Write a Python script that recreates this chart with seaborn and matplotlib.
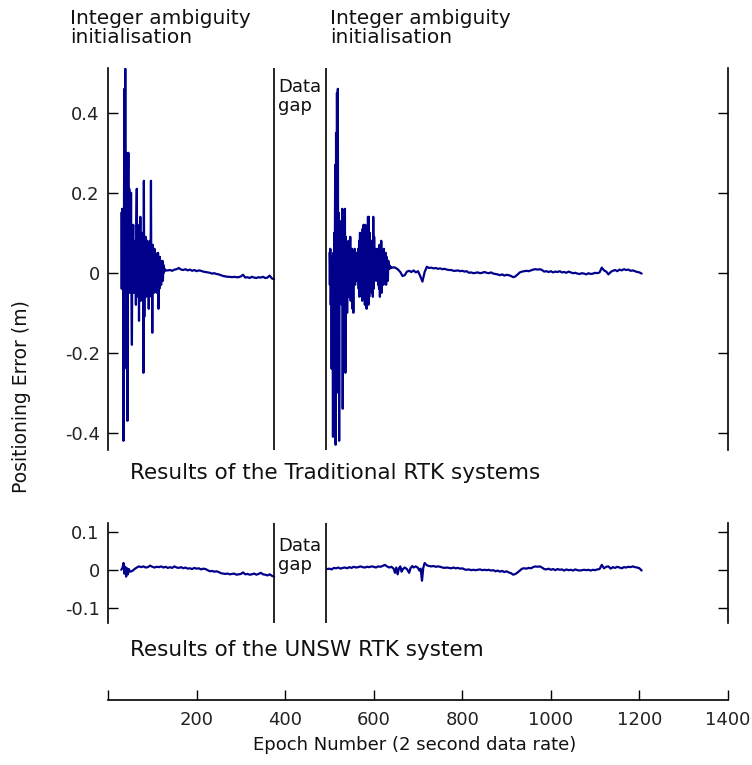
import numpy as np
import pandas as pd
import matplotlib
matplotlib.use("Agg")
import matplotlib.pyplot as plt
import seaborn as sns

# ---------------- data ----------------
gap_bounds = [375, 493]
x_ticks = [0, 200, 400, 600, 800, 1000, 1200, 1400]
x_tick_labels = ["", "200", "400", "600", "800", "1000", "1200", "1400"]
top_yticks = [-0.4, -0.2, 0, 0.2, 0.4]
top_ytick_labels = ["-0.4", "-0.2", "0", "0.2", "0.4"]
bot_yticks = [-0.1, 0, 0.1]
bot_ytick_labels = ["-0.1", "0", "0.1"]

# Traditional RTK: first initialisation (epochs 30..130, 1 epoch spacing)
trad_init1_start = 30
trad_init1_err = [
    0.15, -0.04, 0.16, -0.03, 0.14, -0.42, 0.12, 0.46, -0.04, 0.51,
    -0.05, 0.30, -0.24, 0.12, -0.37, 0.15, 0.30, -0.03, 0.21, -0.05,
    0.14, -0.04, 0.20, -0.06, -0.18, 0.10, 0.05, 0.12, -0.05, 0.08,
    0.02, -0.04, 0.06, -0.08, 0.13, 0.21, -0.03, 0.12, -0.06, 0.09,
    -0.12, 0.11, -0.02, 0.14, -0.07, 0.07, 0.02, 0.05, -0.05, 0.10,
    -0.25, 0.23, -0.11, 0.06, -0.03, 0.09, -0.06, 0.04, 0.00, 0.08,
    -0.05, 0.06, -0.09, 0.05, 0.01, 0.08, -0.03, 0.23, -0.06, 0.05,
    -0.15, 0.07, -0.02, 0.04, -0.05, 0.06, -0.02, 0.05, -0.03, 0.04,
    -0.05, 0.03, -0.02, 0.05, -0.09, 0.03, -0.04, 0.04, -0.01, 0.03,
    -0.03, 0.02, 0.00, 0.03, -0.02, 0.02, 0.00, 0.01, 0.01, 0.005,
    0.006,
]
# Traditional RTK: drift after first fix (epochs 135..375, 5 epoch spacing)
trad_drift1_start = 135
trad_drift1_err = [
    0.006, 0.007, 0.005, 0.008, 0.009, 0.012, 0.008, 0.007, 0.009, 0.006,
    0.008, 0.005, 0.007, 0.004, 0.006, 0.005, 0.003, 0.002, 0.001, 0.000,
    -0.002, -0.001, -0.003, -0.004, -0.006, -0.008, -0.009, -0.010, -0.010, -0.011,
    -0.010, -0.011, -0.011, -0.009, -0.005, -0.012, -0.011, -0.013, -0.010, -0.012,
    -0.013, -0.011, -0.012, -0.010, -0.013, -0.012, -0.007, -0.014, -0.016,
]
# Traditional RTK: second initialisation (epochs 500..640, 1 epoch spacing)
trad_init2_start = 500
trad_init2_err = [
    0.05, -0.03, 0.06, -0.08, 0.03, -0.24, 0.04, -0.02, -0.41, 0.05,
    -0.12, 0.10, 0.00, 0.27, -0.43, 0.35, -0.20, 0.45, -0.05, 0.46,
    -0.30, 0.15, -0.42, 0.12, 0.02, 0.07, -0.05, 0.13, -0.08, 0.16,
    -0.34, 0.10, -0.03, 0.12, -0.06, 0.16, -0.25, 0.09, -0.04, 0.06,
    -0.10, 0.05, 0.01, 0.08, -0.06, 0.05, -0.02, 0.09, -0.07, 0.04,
    -0.01, 0.06, -0.09, 0.03, -0.10, 0.05, 0.00, 0.06, -0.03, 0.04,
    -0.02, 0.05, -0.01, 0.03, 0.00, 0.06, -0.04, 0.08, -0.06, 0.10,
    -0.05, 0.07, -0.03, 0.09, -0.07, 0.11, -0.04, 0.12, -0.05, 0.08,
    -0.08, 0.12, -0.02, 0.07, -0.09, 0.05, -0.07, 0.14, -0.08, 0.14,
    -0.06, 0.10, -0.03, 0.06, 0.02, 0.08, -0.05, 0.07, -0.06, 0.14,
    -0.04, 0.09, -0.02, 0.05, 0.01, 0.06, -0.02, 0.04, 0.00, 0.06,
    -0.03, 0.05, -0.04, 0.07, -0.06, 0.06, -0.02, 0.08, -0.05, 0.04,
    0.00, 0.05, -0.03, 0.06, -0.02, 0.04, -0.01, 0.05, -0.03, 0.04,
    -0.01, 0.03, -0.02, 0.03, 0.01, 0.02, 0.01, 0.016, 0.015, 0.014,
    0.012,
]
# Traditional RTK: drift after second fix (epochs 645..1205, 5 epoch spacing)
trad_drift2_start = 645
trad_drift2_err = [
    0.014, 0.012, 0.008, 0.002, -0.008, -0.006, 0.003, 0.005, 0.002, 0.006,
    0.001, 0.004, -0.008, -0.022, 0.002, 0.015, 0.012, 0.013, 0.011, 0.012,
    0.010, 0.011, 0.009, 0.010, 0.008, 0.007, 0.007, 0.005, 0.005, 0.006,
    0.004, 0.005, 0.003, 0.004, 0.000, 0.001, -0.001, 0.000, 0.001, -0.001,
    0.000, 0.002, 0.000, -0.001, 0.001, -0.002, -0.003, -0.004, -0.006, -0.004,
    -0.007, -0.005, -0.006, -0.008, -0.011, -0.009, -0.004, 0.001, 0.003, 0.004,
    0.005, 0.004, 0.006, 0.008, 0.009, 0.008, 0.009, 0.007, 0.003, 0.004,
    0.002, 0.004, 0.001, 0.003, 0.002, 0.004, 0.001, 0.002, 0.000, 0.003,
    0.001, -0.001, 0.000, -0.002, -0.003, -0.001, -0.002, -0.004, -0.001, -0.003,
    -0.002, 0.000, -0.001, 0.001, 0.013, 0.006, 0.003, -0.004, 0.002, 0.005,
    0.007, 0.004, 0.008, 0.006, 0.009, 0.007, 0.008, 0.005, 0.006, 0.004,
    0.002, 0.001, -0.002,
]

# UNSW RTK
unsw_start_epochs = [30, 33, 35, 37, 39, 41, 43, 45, 47, 50]
unsw_start_err = [0.0, 0.006, 0.018, -0.010, 0.008, -0.018, 0.004, -0.012, 0.002, -0.005]
unsw_drift1_start = 55  # 5 epoch spacing up to 375
unsw_drift1_err = [
    -0.003, 0.002, 0.006, 0.009, 0.007, 0.009, 0.006, 0.007, 0.011, 0.008,
    0.006, 0.008, 0.007, 0.009, 0.006, 0.008, 0.005, 0.007, 0.005, 0.009,
    0.006, 0.005, 0.007, 0.004, 0.006, 0.003, 0.004, 0.002, 0.005, 0.003,
    0.004, 0.001, 0.003, 0.002, -0.001, -0.004, -0.003, -0.005, -0.004, -0.006,
    -0.009, -0.010, -0.011, -0.010, -0.012, -0.011, -0.010, -0.013, -0.012, -0.011,
    -0.007, -0.012, -0.011, -0.013, -0.012, -0.010, -0.013, -0.011, -0.008, -0.012,
    -0.013, -0.015, -0.012, -0.016, -0.018,
]
unsw_resume_start = 495  # 5 epoch spacing up to 640
unsw_resume_err = [
    0.002, 0.003, 0.001, 0.005, 0.004, 0.006, 0.003, 0.005, 0.006, 0.004,
    0.007, 0.005, 0.008, 0.006, 0.007, 0.009, 0.007, 0.006, 0.008, 0.007,
    0.009, 0.008, 0.006, 0.009, 0.008, 0.010, 0.013, 0.009, 0.006, 0.008,
]
unsw_mid_epochs = [645, 648, 651, 654, 657, 660, 663, 666, 670, 675, 680,
                   683, 687, 690, 695, 700, 703, 706, 709, 712, 715]
unsw_mid_err = [0.003, -0.008, 0.006, -0.012, 0.004, 0.009, -0.005, 0.002, 0.006, 0.002, -0.008,
                0.004, 0.010, 0.006, 0.009, 0.005, -0.002, 0.003, -0.029, 0.006, 0.018]
unsw_drift2_start = 720  # 5 epoch spacing up to 1205
unsw_drift2_err = [
    0.012, 0.010, 0.009, 0.010, 0.008, 0.009, 0.008, 0.006, 0.005, 0.006,
    0.005, 0.004, 0.006, 0.004, 0.005, 0.003, 0.004, 0.001, 0.000, 0.001,
    -0.001, 0.000, -0.001, 0.000, 0.001, -0.001, 0.000, -0.001, 0.000, -0.002,
    -0.001, -0.004, -0.002, -0.005, -0.003, -0.006, -0.004, -0.007, -0.009, -0.013,
    -0.011, -0.007, -0.002, 0.003, 0.004, 0.003, 0.005, 0.004, 0.007, 0.009,
    0.008, 0.009, 0.006, 0.002, 0.001, 0.003, 0.000, 0.002, -0.001, 0.002,
    0.000, 0.001, -0.002, 0.001, -0.001, 0.000, -0.002, 0.001, -0.001, -0.002,
    -0.001, 0.000, -0.001, 0.000, -0.002, 0.000, -0.001, 0.001, 0.002, 0.013,
    0.004, 0.008, 0.009, 0.003, 0.007, 0.005, 0.008, 0.006, 0.004, 0.007,
    0.006, 0.008, 0.007, 0.009, 0.007, 0.006, 0.004, -0.002,
]

# ---------------- assemble frames ----------------
def ep(start, vals, step):
    return list(start + step * np.arange(len(vals)))

trad_df = pd.DataFrame({
    "epoch": ep(trad_init1_start, trad_init1_err, 1) + ep(trad_drift1_start, trad_drift1_err, 5)
    + ep(trad_init2_start, trad_init2_err, 1) + ep(trad_drift2_start, trad_drift2_err, 5),
    "err": trad_init1_err + trad_drift1_err + trad_init2_err + trad_drift2_err,
    "seg": [1] * (len(trad_init1_err) + len(trad_drift1_err))
    + [2] * (len(trad_init2_err) + len(trad_drift2_err)),
})
unsw_df = pd.DataFrame({
    "epoch": unsw_start_epochs + ep(unsw_drift1_start, unsw_drift1_err, 5)
    + ep(unsw_resume_start, unsw_resume_err, 5) + unsw_mid_epochs + ep(unsw_drift2_start, unsw_drift2_err, 5),
    "err": unsw_start_err + unsw_drift1_err + unsw_resume_err + unsw_mid_err + unsw_drift2_err,
    "seg": [1] * (len(unsw_start_err) + len(unsw_drift1_err))
    + [2] * (len(unsw_resume_err) + len(unsw_mid_err) + len(unsw_drift2_err)),
})

# ---------------- style ----------------
sns.set_style("ticks")
plt.rcParams["font.family"] = ["DejaVu Sans"]
FS = 13
NAVY = "#00008B"
LW = 1.6

W, H = 752, 765
fig = plt.figure(figsize=(W / 100, H / 100), dpi=100)

def fx(px):
    return px / W

def fy(py):
    return 1 - py / H

left_px, right_px = 108, 728

def panel(top_px, bot_px):
    ax = fig.add_axes([fx(left_px), fy(bot_px), fx(right_px - left_px), (bot_px - top_px) / H])
    ax.set_facecolor("none")
    for s in ["top", "bottom"]:
        ax.spines[s].set_visible(False)
    for s in ["left", "right"]:
        ax.spines[s].set_visible(True)
        ax.spines[s].set_color("black")
        ax.spines[s].set_linewidth(1.2)
    ax.set_xlim(0, 1400)
    ax.set_xticks([])
    ax.tick_params(axis="y", which="major", direction="in", length=7, width=1, color="black",
                   left=True, right=True, labelleft=True, labelright=False,
                   labelsize=FS, pad=6, labelcolor="#222222")
    return ax

ax_top = panel(68, 450)
sns.lineplot(data=trad_df, x="epoch", y="err", units="seg", estimator=None, sort=False,
             color=NAVY, linewidth=LW, ax=ax_top)
ax_top.set_ylim(-0.443, 0.512)
ax_top.set_yticks(top_yticks)
ax_top.set_yticklabels(top_ytick_labels)

ax_bot = panel(523, 623)
sns.lineplot(data=unsw_df, x="epoch", y="err", units="seg", estimator=None, sort=False,
             color=NAVY, linewidth=LW, ax=ax_bot)
ax_bot.set_ylim(-0.141, 0.124)
ax_bot.set_yticks(bot_yticks)
ax_bot.set_yticklabels(bot_ytick_labels)

for ax in (ax_top, ax_bot):
    ax.set_xlabel("")
    ax.set_ylabel("")
    ax.tick_params(axis="x", bottom=False, top=False, labelbottom=False)
    for g in gap_bounds:
        ax.axvline(g, color="black", linewidth=1.2)

# separate x axis
ax_x = fig.add_axes([fx(left_px), fy(700), fx(right_px - left_px), 0.0001])
ax_x.set_facecolor("none")
for s in ["top", "left", "right"]:
    ax_x.spines[s].set_visible(False)
ax_x.spines["bottom"].set_visible(True)
ax_x.spines["bottom"].set_linewidth(1.2)
ax_x.spines["bottom"].set_color("black")
ax_x.set_xlim(0, 1400)
ax_x.set_yticks([])
ax_x.set_xticks(x_ticks)
ax_x.set_xticklabels(x_tick_labels)
ax_x.tick_params(axis="x", which="major", direction="in", length=7, width=1, color="black",
                 bottom=True, top=False, labelbottom=True,
                 labelsize=FS, pad=8, labelcolor="#222222")

# texts
TC = "#111111"
fig.text(fx(70), fy(9), "Integer ambiguity\ninitialisation", fontsize=14.5, va="top", ha="left",
         linespacing=1.0, color=TC)
fig.text(fx(330), fy(9), "Integer ambiguity\ninitialisation", fontsize=14.5, va="top", ha="left",
         linespacing=1.0, color=TC)
fig.text(fx(278), fy(78), "Data\ngap", fontsize=FS, va="top", ha="left", linespacing=1.05, color=TC)
fig.text(fx(278), fy(537), "Data\ngap", fontsize=FS, va="top", ha="left", linespacing=1.05, color=TC)
fig.text(fx(130), fy(473), "Results of the Traditional RTK systems", fontsize=15.5, va="center", ha="left", color=TC)
fig.text(fx(130), fy(650), "Results of the UNSW RTK system", fontsize=15.5, va="center", ha="left", color=TC)
fig.text(fx(22), fy(397), "Positioning Error (m)", fontsize=13.5, rotation=90, va="center", ha="center", color=TC)
fig.text(fx(415), fy(745), "Epoch Number (2 second data rate)", fontsize=FS, va="center", ha="center", color=TC)

fig.savefig("out.png", dpi=100, facecolor="white")
